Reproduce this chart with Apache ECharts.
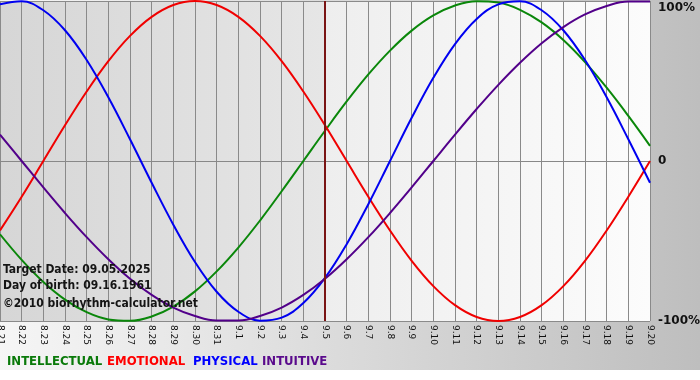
<!DOCTYPE html>
<html>
<head>
<meta charset="utf-8">
<script src="https://cdn.jsdelivr.net/npm/echarts@6/dist/echarts.min.js"></script>
<style>html,body{margin:0;padding:0;background:#fff}#c{width:700px;height:380px}</style>
</head>
<body>
<div id="c"></div>
<script>
var days = ['8.21','8.22','8.23','8.24','8.25','8.26','8.27','8.28','8.29','8.30','8.31',
  '9.1','9.2','9.3','9.4','9.5','9.6','9.7','9.8','9.9','9.10','9.11','9.12','9.13','9.14',
  '9.15','9.16','9.17','9.18','9.19','9.20'];
var targetDay = '9.5';
var intellectual = [-45.8,-61.8,-75.6,-86.6,-94.5,-99.0,-99.9,-97.2,-91.0,-81.5,-69.0,-54.1,-37.2,-18.9,0,
  18.9,37.2,54.1,69.0,81.5,91.0,97.2,99.9,99.0,94.5,86.6,75.6,61.8,45.8,28.2,9.5];
var emotional = [-43.4,-22.3,0,22.3,43.4,62.4,78.2,90.1,97.5,100,97.5,90.1,78.2,62.4,43.4,
  22.3,0,-22.3,-43.4,-62.4,-78.2,-90.1,-97.5,-100,-97.5,-90.1,-78.2,-62.4,-43.4,-22.3,0];
var physical = [97.9,99.8,94.2,81.7,63.1,39.8,13.6,-13.6,-39.8,-63.1,-81.7,-94.2,-99.8,-97.9,-88.8,
  -73.1,-52.0,-27.0,0,27.0,52.0,73.1,88.8,97.9,99.8,94.2,81.7,63.1,39.8,13.6,-13.6];
var intuitive = [16.5,0,-16.5,-32.5,-47.6,-61.4,-73.6,-83.7,-91.6,-96.9,-99.7,-99.7,-96.9,-91.6,-83.7,
  -73.6,-61.4,-47.6,-32.5,-16.5,0,16.5,32.5,47.6,61.4,73.6,83.7,91.6,96.9,99.7,99.7];
var yTicks = {'100':'100%','0':'0','-100':'-100%'};
var infoLines = ['Target Date: 09.05.2025','Day of birth: 09.16.1961','\u00a92010 biorhythm-calculator.net'];
var legendNames = ['INTELLECTUAL','EMOTIONAL','PHYSICAL','INTUITIVE'];
var colors = ['#0a870a','#f00000','#0000f0','#52008a'];
var legendColors = ['#0a7a0a','#ff0000','#0000ff','#5a0a8c'];

var chart = echarts.init(document.getElementById('c'), null, {renderer:'canvas'});
function lg(a,b){return new echarts.graphic.LinearGradient(0,0,1,0,[{offset:0,color:a},{offset:1,color:b}]);}
function lineSeries(name, data, color){
  return {name:name,type:'line',data:data,smooth:0.4,symbol:'none',z:4,
    lineStyle:{color:color,width:2},itemStyle:{color:color}};
}
var series = [
  {type:'line',data:[],z:1,silent:true,
   markArea:{silent:true,label:{show:false},data:[
     [{xAxis:days[0],itemStyle:{color:lg('#d6d6d6','#e6e6e6'),opacity:1}},{xAxis:targetDay}],
     [{xAxis:targetDay,itemStyle:{color:lg('#eeeeee','#fcfcfc'),opacity:1}},{xAxis:days[days.length-1]}]
   ]}},
  lineSeries(legendNames[0], intellectual, colors[0]),
  lineSeries(legendNames[1], emotional, colors[1]),
  lineSeries(legendNames[2], physical, colors[2]),
  lineSeries(legendNames[3], intuitive, colors[3])
];
series[1].markLine = {silent:true,symbol:'none',label:{show:false},
  lineStyle:{color:'#7a1414',width:2,type:'solid'},data:[{xAxis:targetDay}]};
series[1].z = 3;

var graphics = [
  {type:'rect',left:0,bottom:0,shape:{width:700,height:10},style:{fill:'#ffffff'},z:-10}
];
var legendX = [7,107,193,262];
legendNames.forEach(function(n,i){
  graphics.push({type:'text',left:legendX[i],top:355,z:10,
    style:{text:n,fill:legendColors[i],font:'bold 13px "DejaVu Sans Condensed"'}});
});
var infoTop = [264,280,298];
infoLines.forEach(function(t,i){
  graphics.push({type:'text',left:3,top:infoTop[i],z:10,
    style:{text:t,fill:'#141414',font:'bold 12px "DejaVu Sans Condensed"'}});
});

chart.setOption({
  animation:false,
  backgroundColor: lg('#f6f6f6','#bebebe'),
  grid:{left:0,right:50,top:1,bottom:59,containLabel:false,outerBoundsMode:'none'},
  xAxis:{type:'category',data:days,boundaryGap:false,z:2,
    axisLine:{show:true,lineStyle:{color:'#888888',width:1}},
    axisTick:{show:true,length:3,lineStyle:{color:'#888888'},interval:0},
    axisLabel:{interval:0,rotate:-90,margin:4,fontSize:9,fontFamily:'DejaVu Sans',color:'#111'},
    splitLine:{show:true,lineStyle:{color:'#8a8a8a',width:1}}},
  yAxis:{type:'value',position:'right',min:-100,max:100,interval:100,z:2,
    axisLine:{show:false},axisTick:{show:false},
    axisLabel:{margin:8,color:'#111',fontSize:12,fontWeight:'bold',fontFamily:'DejaVu Sans',
      formatter:function(v){ var s = yTicks[String(v)]; return v===100 ? '{t|'+s+'}' : s; },
      rich:{t:{padding:[13,0,0,0],fontSize:12,fontWeight:'bold',fontFamily:'DejaVu Sans',color:'#111'}}},
    splitLine:{show:true,lineStyle:{color:'#8a8a8a',width:1}}},
  series:series,
  graphic:graphics
});
</script>
</body>
</html>
